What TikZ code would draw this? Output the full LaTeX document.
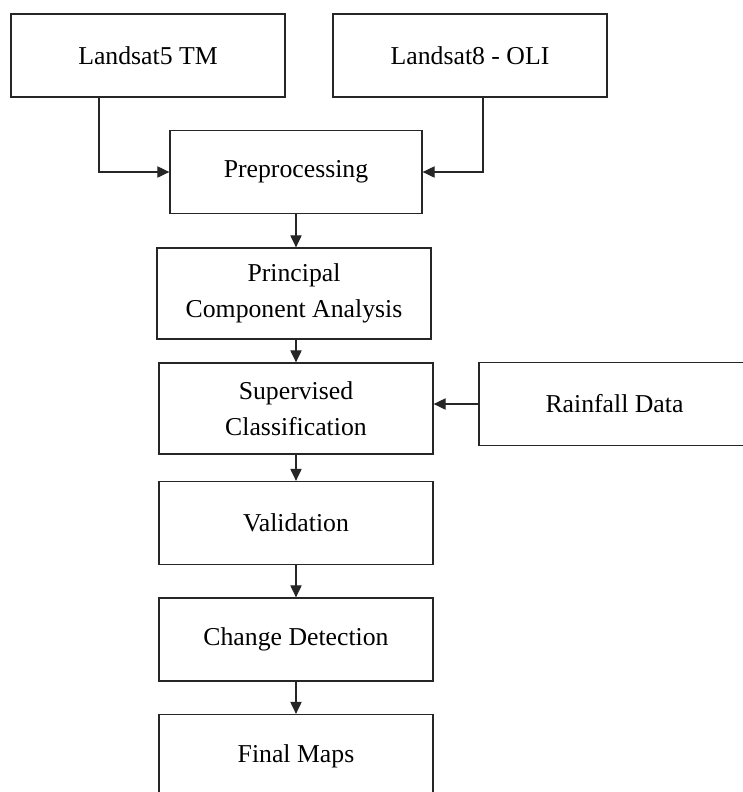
\documentclass[tikz,border=0pt]{standalone}
\usepackage{fontspec}
\setmainfont{Liberation Serif}
\usetikzlibrary{arrows.meta}

\begin{document}
\begin{tikzpicture}[x=0.025cm,y=-0.025cm]
    \tikzstyle{block}=[draw=black!85,line width=0.9pt,align=center,inner sep=2pt,minimum width=6.85cm,minimum height=2.075cm,font=\fontsize{18.3}{25.8}\selectfont]
    \tikzstyle{flow}=[draw=black!85,line width=0.8pt,-{Triangle[length=8.5pt,width=8pt]}]
    \useasboundingbox (0,0) rectangle (743,792);
    \node (ls5)[block] at (148,55.5) {Landsat5 TM};
    \node (ls8)[block] at (470,55.5) {Landsat8 - OLI};
    \node (pre)[block,minimum width=6.3cm] at (296,172) {Preprocessing};
    \node (pca)[block,minimum height=2.275cm] at (294,293.5) {Principal\\Component Analysis};
    \node (sup)[block,minimum height=2.275cm] at (296,408.5) {Supervised\\Classification};
    \node (rain)[block,minimum width=6.775cm] at (614.5,404) {Rainfall Data};
    \node (val)[block] at (296,523) {Validation};
    \node (chg)[block] at (296,639.5) {Change Detection};
    \node (fin)[block] at (296,756) {Final Maps};
    \draw [flow] ([xshift=-1.225cm]ls5.south) |- (pre.west);
    \draw [flow] ([xshift=0.325cm]ls8.south) |- (pre.east);
    \draw [flow] (pre.south) -- (pre.south |- pca.north);
    \draw [flow] (pca.south -| sup.north) -- (sup.north);
    \draw [flow] (sup.south) -- (val.north);
    \draw [flow] (rain.west) -- (rain.west -| sup.east);
    \draw [flow] (val.south) -- (chg.north);
    \draw [flow] (chg.south) -- (fin.north);
\end{tikzpicture}
\end{document}
